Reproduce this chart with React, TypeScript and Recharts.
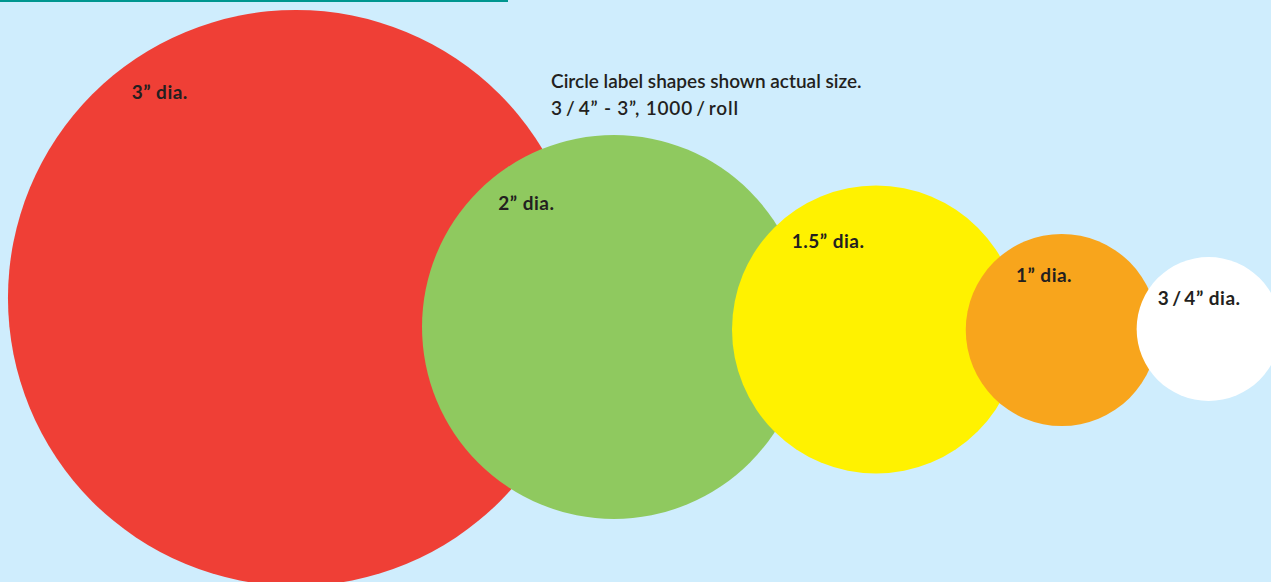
import React from 'react';
import { ScatterChart, Scatter, XAxis, YAxis, Customized } from 'recharts';

const W = 1271;
const H = 582;
const PX_PER_UNIT = 96;
const X_MAX = W / PX_PER_UNIT;
const Y_MAX = H / PX_PER_UNIT;

// Circle sizes (diameter in inches) and their placement (chart units)
const sizeLabels = ['3\u201D dia.', '2\u201D dia.', '1.5\u201D dia.', '1\u201D dia.', '3\u2009/\u20094\u201D dia.'];
const diameters = [3, 2, 1.5, 1, 0.75];
const centerX = [3.083, 6.396, 9.125, 11.06, 12.59];
const centerY = [3.104, 3.406, 3.432, 3.4375, 3.427];
const fills = ['#ef3f36', '#8fc95f', '#fff200', '#f8a51c', '#ffffff'];
const labelX = [1.372, 5.19, 8.247, 10.583, 12.06];
const labelY = [1.031, 2.1875, 2.583, 2.9375, 3.177];

const headerLines = ['Circle label shapes shown actual size.', '3\u2009/\u20094\u201D - 3\u201D, 1000\u2009/\u2009roll'];

const circleData = diameters.map((d, i) => ({ x: centerX[i], y: centerY[i], dia: d, fill: fills[i] }));
const labelData = sizeLabels.map((t, i) => ({ x: labelX[i], y: labelY[i], text: t }));

const FONT = 'Lato, "Open Sans", sans-serif';
const TEXT_COLOR = '#231f20';

const CircleShape = (props: any) => {
  const { cx, cy, payload } = props;
  const r = payload.dia * (W / X_MAX);
  return <circle cx={cx} cy={cy} r={r} fill={payload.fill} />;
};

const LabelShape = (props: any) => {
  const { cx, cy, payload } = props;
  return (
    <text x={cx} y={cy} fill={TEXT_COLOR} fontFamily={FONT} fontSize={19} fontWeight={700} letterSpacing={0.5}>
      {payload.text}
    </text>
  );
};

const Decor = () => (
  <g>
    <rect x={0} y={0} width={508} height={2} fill="#00968f" />
    <text x={551} y={88} fill={TEXT_COLOR} fontFamily={FONT} fontSize={19} fontWeight={600}>
      {headerLines[0]}
    </text>
    <text x={551} y={115} fill={TEXT_COLOR} fontFamily={FONT} fontSize={19} fontWeight={600} letterSpacing={0.8}>
      {headerLines[1]}
    </text>
  </g>
);

export default function App() {
  return (
    <div style={{ position: 'absolute', left: 0, top: 0, width: W, height: H, background: '#cfedfd', overflow: 'hidden' }}>
      <ScatterChart width={W} height={H} margin={{ top: 0, right: 0, bottom: 0, left: 0 }}>
        <XAxis type="number" dataKey="x" domain={[0, X_MAX]} hide allowDataOverflow />
        <YAxis type="number" dataKey="y" domain={[0, Y_MAX]} reversed hide allowDataOverflow width={0} />
        <Scatter data={circleData} shape={CircleShape} isAnimationActive={false} />
        <Scatter data={labelData} shape={LabelShape} isAnimationActive={false} />
        <Customized component={Decor} />
      </ScatterChart>
    </div>
  );
}
